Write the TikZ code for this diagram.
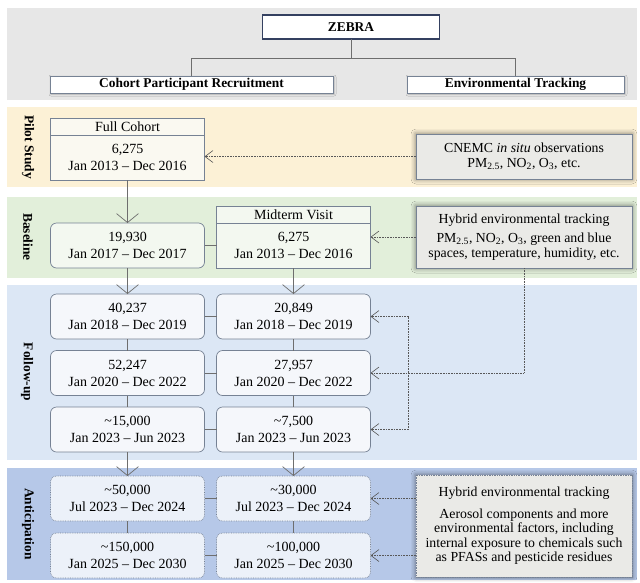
\documentclass[tikz,border=0pt]{standalone}
\usepackage{fontspec}
\setmainfont{Liberation Serif}
\usetikzlibrary{positioning,arrows.meta,shadows.blur}

\definecolor{bandtop}{RGB}{231,231,231}
\definecolor{bandpilot}{RGB}{252,241,214}
\definecolor{bandbase}{RGB}{226,239,218}
\definecolor{bandfollow}{RGB}{220,231,245}
\definecolor{bandantic}{RGB}{182,200,232}
\definecolor{fillpilot}{RGB}{250,249,241}
\definecolor{fillbase}{RGB}{243,248,240}
\definecolor{fillfollow}{RGB}{245,247,251}
\definecolor{fillantic}{RGB}{236,241,249}
\definecolor{fillenv}{RGB}{234,234,231}
\definecolor{boxline}{RGB}{118,130,148}
\definecolor{zebraline}{RGB}{52,64,96}
\definecolor{linkgray}{RGB}{110,110,110}

\begin{document}
\begin{tikzpicture}[x=1pt,y=-1pt,
  every node/.style={align=center,inner sep=0pt,outer sep=0pt},
  font=\fontsize{14}{17}\selectfont,
  node distance=12pt,
  headbox/.style={draw=boxline,line width=0.7pt,fill=white,minimum height=17pt,
    font=\fontsize{13.4}{16}\selectfont\bfseries,
    blur shadow={shadow blur radius=2pt,shadow xshift=1pt,shadow yshift=-1pt,shadow opacity=25}},
  phaselabel/.style={font=\fontsize{13.4}{16}\selectfont\bfseries,rotate=-90},
  cellbox/.style={draw=boxline,line width=0.7pt,rounded corners=6pt,minimum width=154pt,minimum height=45pt},
  visitbox/.style={draw=boxline,line width=0.7pt,minimum width=154pt,minimum height=17pt},
  envbox/.style={draw=boxline,line width=0.7pt,fill=fillenv,minimum width=216pt,
    font=\fontsize{13.8}{14.5}\selectfont,
    blur shadow={shadow blur radius=5pt,shadow xshift=0pt,shadow yshift=0pt,shadow opacity=55}},
  link/.style={draw=linkgray,line width=0.7pt},
  arr/.style={link,-{Straight Barb[length=9pt,width=22pt]}},
  dotarr/.style={draw=linkgray!80!black,line width=0.6pt,densely dotted,-{Straight Barb[length=8pt,width=12pt]}}]
\useasboundingbox (0,0) rectangle (640,582);

\fill[bandtop] (7,8) rectangle (637,100);
\fill[bandpilot] (7,107) rectangle (637,187);
\fill[bandbase] (7,197) rectangle (637,278);
\fill[bandfollow] (7,285) rectangle (637,460);
\fill[bandantic] (7,468) rectangle (637,580);

\node[draw=zebraline,line width=1.5pt,fill=white,minimum width=177pt,minimum height=24pt,
  font=\fontsize{13.4}{16}\selectfont\bfseries] (zebra) at (351,27) {ZEBRA};
\node[headbox,minimum width=283pt] (cohort) at (191.5,84.5) {Cohort Participant Recruitment};
\node[headbox,minimum width=217pt] (envtrack) at (515.5,84.5) {Environmental Tracking};

\node[phaselabel] (lpilot) at (28,147) {Pilot Study};
\node[phaselabel] (lbase) at (28,237) {Baseline};
\node[phaselabel] (lfollow) at (27,372) {Follow-up};
\node[phaselabel] (lantic) at (28,524) {Anticipation};

\node[visitbox,fill=fillpilot] (fullhead) at (127.5,126.5) {Full Cohort};
\node[cellbox,rounded corners=0pt,fill=fillpilot] (full) [below=0pt of fullhead] {6,275\\Jan 2013 -- Dec 2016};
\node[envbox,minimum height=45pt] (cnemc) at (524,156.5) {CNEMC \textit{in situ} observations\\PM\textsubscript{2.5}, NO\textsubscript{2}, O\textsubscript{3}, etc.};

\node[cellbox,fill=fillbase] (base) at (127.5,245.5) {19,930\\Jan 2017 -- Dec 2017};
\node[cellbox,rounded corners=0pt,fill=fillbase] (mid) [right=of base] {6,275\\Jan 2013 -- Dec 2016};
\node[visitbox,fill=fillbase] (midhead) [above=0pt of mid] {Midterm Visit};
\node[envbox,minimum height=62pt] (hybbase) at (524,237) {Hybrid environmental tracking\\[5pt]PM\textsubscript{2.5}, NO\textsubscript{2}, O\textsubscript{3}, green and blue\\spaces, temperature, humidity, etc.};

\node[cellbox,fill=fillfollow] (fua) [below=26pt of base] {40,237\\Jan 2018 -- Dec 2019};
\node[cellbox,fill=fillfollow] (fub) [below=11.5pt of fua] {52,247\\Jan 2020 -- Dec 2022};
\node[cellbox,fill=fillfollow] (fuc) [below=11.5pt of fub] {\textasciitilde15,000\\Jan 2023 -- Jun 2023};
\node[cellbox,fill=fillfollow] (fuar) [right=of fua] {20,849\\Jan 2018 -- Dec 2019};
\node[cellbox,fill=fillfollow] (fubr) [right=of fub] {27,957\\Jan 2020 -- Dec 2022};
\node[cellbox,fill=fillfollow] (fucr) [right=of fuc] {\textasciitilde7,500\\Jan 2023 -- Jun 2023};

\node[cellbox,densely dotted,fill=fillantic] (ana) [below=24pt of fuc] {\textasciitilde50,000\\Jul 2023 -- Dec 2024};
\node[cellbox,densely dotted,fill=fillantic] (anb) [below=of ana] {\textasciitilde150,000\\Jan 2025 -- Dec 2030};
\node[cellbox,densely dotted,fill=fillantic] (anar) [right=of ana] {\textasciitilde30,000\\Jul 2023 -- Dec 2024};
\node[cellbox,densely dotted,fill=fillantic] (anbr) [right=of anb] {\textasciitilde100,000\\Jan 2025 -- Dec 2030};
\node[envbox,densely dotted,minimum height=102pt] (hybantic) at (524,526) {Hybrid environmental tracking\\[7pt]Aerosol components and more\\environmental factors, including\\internal exposure to chemicals such\\as PFASs and pesticide residues};

\draw[link] (zebra.south) -- ++(0,19) coordinate (split) -| (cohort.north);
\draw[link] (split) -| (envtrack.north);

\path[arr] (full) edge (base) (base) edge (fua) (mid) edge (fuar) (fuc) edge (ana) (fucr) edge (anar);
\path[link] (base) edge (mid) (fua) edge (fuar) (fub) edge (fubr) (fuc) edge (fucr) (ana) edge (anar) (anb) edge (anbr)
  (fua) edge (fub) (fub) edge (fuc) (fuar) edge (fubr) (fubr) edge (fucr) (ana) edge (anb) (anar) edge (anbr);

\draw[dotarr] (cnemc.west) -- (cnemc.west -| full.east);
\draw[dotarr] (hybbase.west) -- (hybbase.west -| mid.east);
\draw[dotarr] (hybbase.south) |- (fubr.east);
\path (fubr.east) ++(38,0) coordinate (fork);
\draw[dotarr] (fork) |- (fuar.east);
\draw[dotarr] (fork) |- (fucr.east);
\draw[dotarr] (hybantic.west |- anar) -- (anar.east);
\draw[dotarr] (hybantic.west |- anbr) -- (anbr.east);
\end{tikzpicture}
\end{document}
